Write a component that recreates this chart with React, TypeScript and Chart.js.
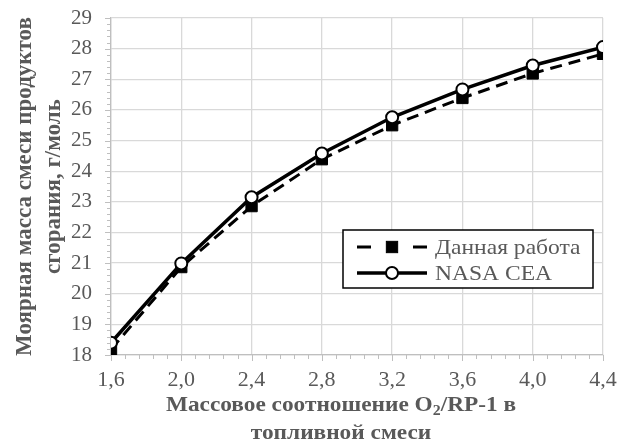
import { useEffect, useRef } from "react";
import { Chart, registerables } from "chart.js";

Chart.register(...registerables);

const ratios = [1.6, 2.0, 2.4, 2.8, 3.2, 3.6, 4.0, 4.4];
const thisWork = [18.18, 20.87, 22.86, 24.39, 25.5, 26.39, 27.19, 27.83];
const nasaCea = [18.4, 20.99, 23.15, 24.58, 25.76, 26.67, 27.45, 28.05];
const seriesNames = ["Данная работа", "NASA CEA"];
const yTitle = ["Моярная масса смеси продуктов", "сгорания, г/моль"];
const xTitle = ["Массовое соотношение O₂/RP-1 в", "топливной смеси"];
const xRange = [1.6, 4.4];
const yRange = [18, 29];

const FONT = "'Liberation Serif', 'Times New Roman', serif";
const GRAY_TEXT = "#595959";
const AXIS_GRAY = "#bfbfbf";

const fmt = (v: number) => v.toFixed(1).replace(".", ",");

const axisDecor = {
  id: "axisDecor",
  afterDraw(chart: any) {
    const { ctx, chartArea: a, scales } = chart;
    const x = scales.x;
    const y = scales.y;
    ctx.save();
    ctx.strokeStyle = AXIS_GRAY;
    ctx.lineWidth = 1;
    ctx.beginPath();
    for (let i = 0; i <= (yRange[1] - yRange[0]) * 5; i++) {
      const v = yRange[0] + i * 0.2;
      const py = Math.round(y.getPixelForValue(v)) + 0.5;
      const len = i % 5 === 0 ? 6 : 4;
      ctx.moveTo(a.left - len, py);
      ctx.lineTo(a.left, py);
    }
    const n = Math.round((xRange[1] - xRange[0]) / 0.08);
    for (let i = 0; i <= n; i++) {
      const v = xRange[0] + i * 0.08;
      const px = Math.round(x.getPixelForValue(v)) + 0.5;
      const len = i % 5 === 0 ? 6 : 4;
      ctx.moveTo(px, a.bottom);
      ctx.lineTo(px, a.bottom + len);
    }
    ctx.stroke();

    ctx.fillStyle = GRAY_TEXT;
    ctx.textBaseline = "middle";
    ctx.textAlign = "left";
    const sx = 1.06;
    const cx = 341;
    const lineYs = [405, 433];
    xTitle.forEach((line, li) => {
      const parts = line.split("₂");
      const segs: { t: string; sub: boolean }[] = [];
      parts.forEach((p, pi) => {
        segs.push({ t: p, sub: false });
        if (pi < parts.length - 1) segs.push({ t: "2", sub: true });
      });
      let total = 0;
      segs.forEach((s) => {
        ctx.font = `bold ${s.sub ? 15 : 22}px ${FONT}`;
        total += ctx.measureText(s.t).width;
      });
      ctx.save();
      ctx.translate(cx, lineYs[li]);
      ctx.scale(sx, 1);
      let px = -total / 2;
      segs.forEach((s) => {
        ctx.font = `bold ${s.sub ? 15 : 22}px ${FONT}`;
        ctx.fillText(s.t, px, s.sub ? 6 : 0);
        px += ctx.measureText(s.t).width;
      });
      ctx.restore();
    });
    ctx.restore();
  },
};

const boxLegend = {
  id: "boxLegend",
  afterDraw(chart: any) {
    const ctx = chart.ctx;
    const bx = 343, by = 230, bw = 250, bh = 58;
    ctx.save();
    ctx.fillStyle = "#ffffff";
    ctx.fillRect(bx, by, bw, bh);
    ctx.strokeStyle = "#000000";
    ctx.lineWidth = 1.5;
    ctx.strokeRect(bx, by, bw, bh);
    const rows = [247, 273];
    const datasets = chart.data.datasets;
    const order = [1, 0];
    order.forEach((di, ri) => {
      const ds = datasets[di];
      const ry = rows[ri];
      const x0 = 357, x1 = 427, xm = 392;
      ctx.strokeStyle = ds.borderColor;
      ctx.lineWidth = ds.borderWidth;
      ctx.setLineDash([]);
      ctx.beginPath();
      if (ds.borderDash && ds.borderDash.length) {
        ctx.moveTo(x0, ry);
        ctx.lineTo(x0 + 14, ry);
        ctx.moveTo(x1 - 14, ry);
        ctx.lineTo(x1, ry);
      } else {
        ctx.moveTo(x0, ry);
        ctx.lineTo(x1, ry);
      }
      ctx.stroke();
      ctx.fillStyle = ds.pointBackgroundColor;
      ctx.strokeStyle = ds.pointBorderColor;
      ctx.lineWidth = ds.pointBorderWidth;
      if (ds.pointStyle === "rect") {
        const s = ds.pointRadius * Math.SQRT1_2;
        ctx.fillRect(xm - s, ry - s, 2 * s, 2 * s);
        ctx.strokeRect(xm - s, ry - s, 2 * s, 2 * s);
      } else {
        ctx.beginPath();
        ctx.arc(xm, ry, ds.pointRadius, 0, Math.PI * 2);
        ctx.fill();
        ctx.stroke();
      }
      ctx.fillStyle = GRAY_TEXT;
      ctx.font = `22px ${FONT}`;
      ctx.textAlign = "left";
      ctx.textBaseline = "middle";
      ctx.save();
      ctx.translate(435, ry + 1);
      ctx.scale(1.07, 1);
      ctx.fillText(ds.label, 0, 0);
      ctx.restore();
    });
    ctx.restore();
  },
};

export default function App() {
  const ref = useRef<HTMLCanvasElement | null>(null);
  useEffect(() => {
    if (!ref.current) return;
    const chart = new Chart(ref.current, {
      type: "line",
      data: {
        datasets: [
          {
            label: seriesNames[1],
            data: ratios.map((r, i) => ({ x: r, y: nasaCea[i] })),
            borderColor: "#000000",
            borderWidth: 3.5,
            pointStyle: "circle",
            pointRadius: 6,
            pointBackgroundColor: "#ffffff",
            pointBorderColor: "#000000",
            pointBorderWidth: 2,
            tension: 0,
            order: 0,
          },
          {
            label: seriesNames[0],
            data: ratios.map((r, i) => ({ x: r, y: thisWork[i] })),
            borderColor: "#000000",
            borderWidth: 3,
            borderDash: [12, 7],
            pointStyle: "rect",
            pointRadius: 8,
            pointBackgroundColor: "#000000",
            pointBorderColor: "#000000",
            pointBorderWidth: 1,
            tension: 0,
            order: 1,
          },
        ],
      },
      options: {
        animation: false,
        responsive: false,
        maintainAspectRatio: false,
        layout: { padding: { top: 18, right: 23, left: 0, bottom: 0 } },
        plugins: {
          legend: { display: false },
          tooltip: { enabled: false },
        },
        scales: {
          x: {
            type: "linear",
            min: xRange[0],
            max: xRange[1],
            afterFit: (s: any) => {
              s.height = 88;
              s.paddingLeft = 0;
              s.paddingRight = 0;
            },
            ticks: {
              stepSize: 0.4,
              padding: 12,
              color: GRAY_TEXT,
              font: { family: FONT, size: 22 },
              callback: (v: any) => fmt(Number(v)),
              maxRotation: 0,
            },
            grid: { color: "#d9d9d9", lineWidth: 1.3, drawTicks: false },
            border: { color: AXIS_GRAY, width: 1.3 },
          },
          y: {
            type: "linear",
            min: yRange[0],
            max: yRange[1],
            afterFit: (s: any) => {
              s.width = 111;
              s.paddingTop = 0;
              s.paddingBottom = 0;
            },
            ticks: {
              stepSize: 1,
              padding: 19,
              color: GRAY_TEXT,
              font: { family: FONT, size: 21 },
            },
            grid: { color: "#d9d9d9", lineWidth: 1.3, drawTicks: false },
            border: { color: AXIS_GRAY, width: 1.3 },
            title: {
              display: true,
              text: yTitle,
              color: GRAY_TEXT,
              font: { family: FONT, size: 23, weight: "bold", lineHeight: 1.26 },
              padding: { top: 11, bottom: 0 },
            },
          },
        },
      },
      plugins: [axisDecor, boxLegend],
    });
    return () => chart.destroy();
  }, []);
  return (
    <div style={{ position: "fixed", left: 0, top: 0, width: 626, height: 443, background: "#fff" }}>
      <canvas ref={ref} width={626} height={443} style={{ display: "block", width: 626, height: 443 }} />
    </div>
  );
}
